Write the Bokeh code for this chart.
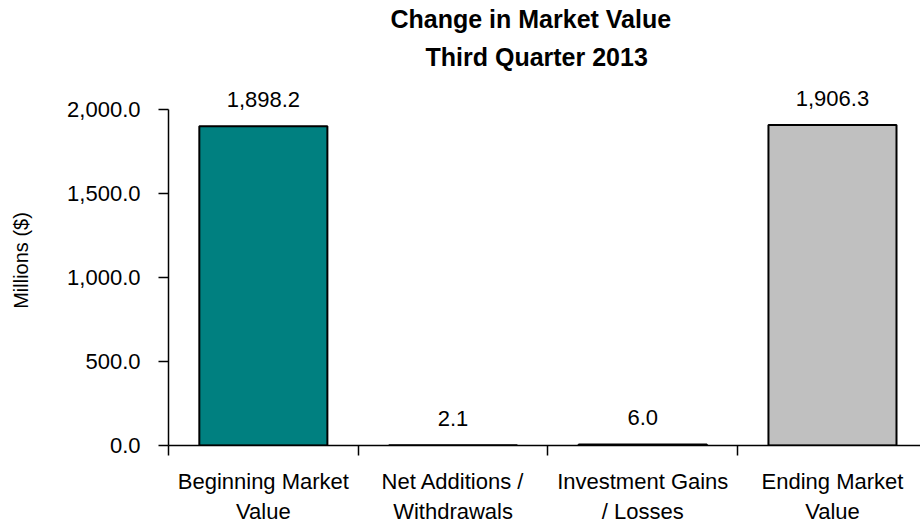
from bokeh.plotting import figure
from bokeh.models import (Range1d, FixedTicker, NumeralTickFormatter, ColumnDataSource,
                          LabelSet, Title)
from bokeh.core.properties import value
from bokeh.embed import file_html
from bokeh.resources import INLINE

categories = ["Beginning Market\nValue", "Net Additions /\nWithdrawals",
              "Investment Gains\n/ Losses", "Ending Market\nValue"]
values = [1898.2, 2.1, 6.0, 1906.3]
value_labels = ["1,898.2", "2.1", "6.0", "1,906.3"]
bar_colors = ["#008080", "#008080", "#C0C0C0", "#C0C0C0"]
y_ticks = [0, 500, 1000, 1500, 2000]
y_title = "Millions ($)"

FONT = "Liberation Sans"

xs = [i + 0.5 for i in range(len(categories))]
src = ColumnDataSource(dict(x=xs, top=values, lab=value_labels, color=bar_colors))

p = figure(width=920, height=528, output_backend="svg", toolbar_location=None,
           x_range=Range1d(0, 3.964), y_range=Range1d(0, 2200),
           min_border_left=168, min_border_right=0, min_border_bottom=83, min_border_top=0)
p.background_fill_color = "white"
p.border_fill_color = "white"
p.outline_line_color = None
p.grid.visible = False

p.vbar(x="x", top="top", bottom=0, width=0.675, source=src, fill_color="color",
       line_color="black", line_width=2)

labels = LabelSet(x="x", y="top", text="lab", source=src, text_align="center",
                  text_baseline="alphabetic", y_offset=19, text_font_size=value("22px"),
                  text_font=value(FONT), text_color="black")
p.add_layout(labels)

# y axis
ya = p.yaxis[0]
ya.ticker = FixedTicker(ticks=y_ticks)
ya.bounds = (0, 2000)
ya.formatter = NumeralTickFormatter(format="0,0.0")
ya.major_label_text_font = FONT
ya.major_label_text_font_size = "22px"
ya.major_label_text_color = "black"
ya.major_tick_in = 0
ya.major_tick_out = 10
ya.major_label_standoff = 18
ya.minor_tick_line_color = None
ya.axis_line_width = 1.5
ya.major_tick_line_width = 1.5
ya.axis_label = y_title
ya.axis_label_text_font = FONT
ya.axis_label_text_font_size = "20px"
ya.axis_label_text_font_style = "normal"
ya.axis_label_text_color = "black"
ya.axis_label_standoff = 32

# x axis
xa = p.xaxis[0]
xa.ticker = FixedTicker(ticks=xs, minor_ticks=list(range(len(categories) + 1)))
xa.major_label_overrides = {x: c for x, c in zip(xs, categories)}
xa.major_tick_line_color = None
xa.major_tick_in = 0
xa.major_tick_out = 0
xa.minor_tick_in = 0
xa.minor_tick_out = 10
xa.minor_tick_line_width = 1.5
xa.axis_line_width = 1.5
xa.major_label_text_font = FONT
xa.major_label_text_font_size = "22px"
xa.major_label_text_color = "black"
xa.major_label_standoff = 13

p.add_layout(Title(text="Third Quarter 2013", align="left", offset=257, text_font_size="25px",
                   text_font=FONT, text_font_style="bold", text_color="black",
                   standoff=10), "above")
p.add_layout(Title(text="Change in Market Value", align="left", offset=222, text_font_size="25px",
                   text_font=FONT, text_font_style="bold", text_color="black",
                   standoff=5), "above")

open("out.html", "w").write(file_html(p, INLINE))
